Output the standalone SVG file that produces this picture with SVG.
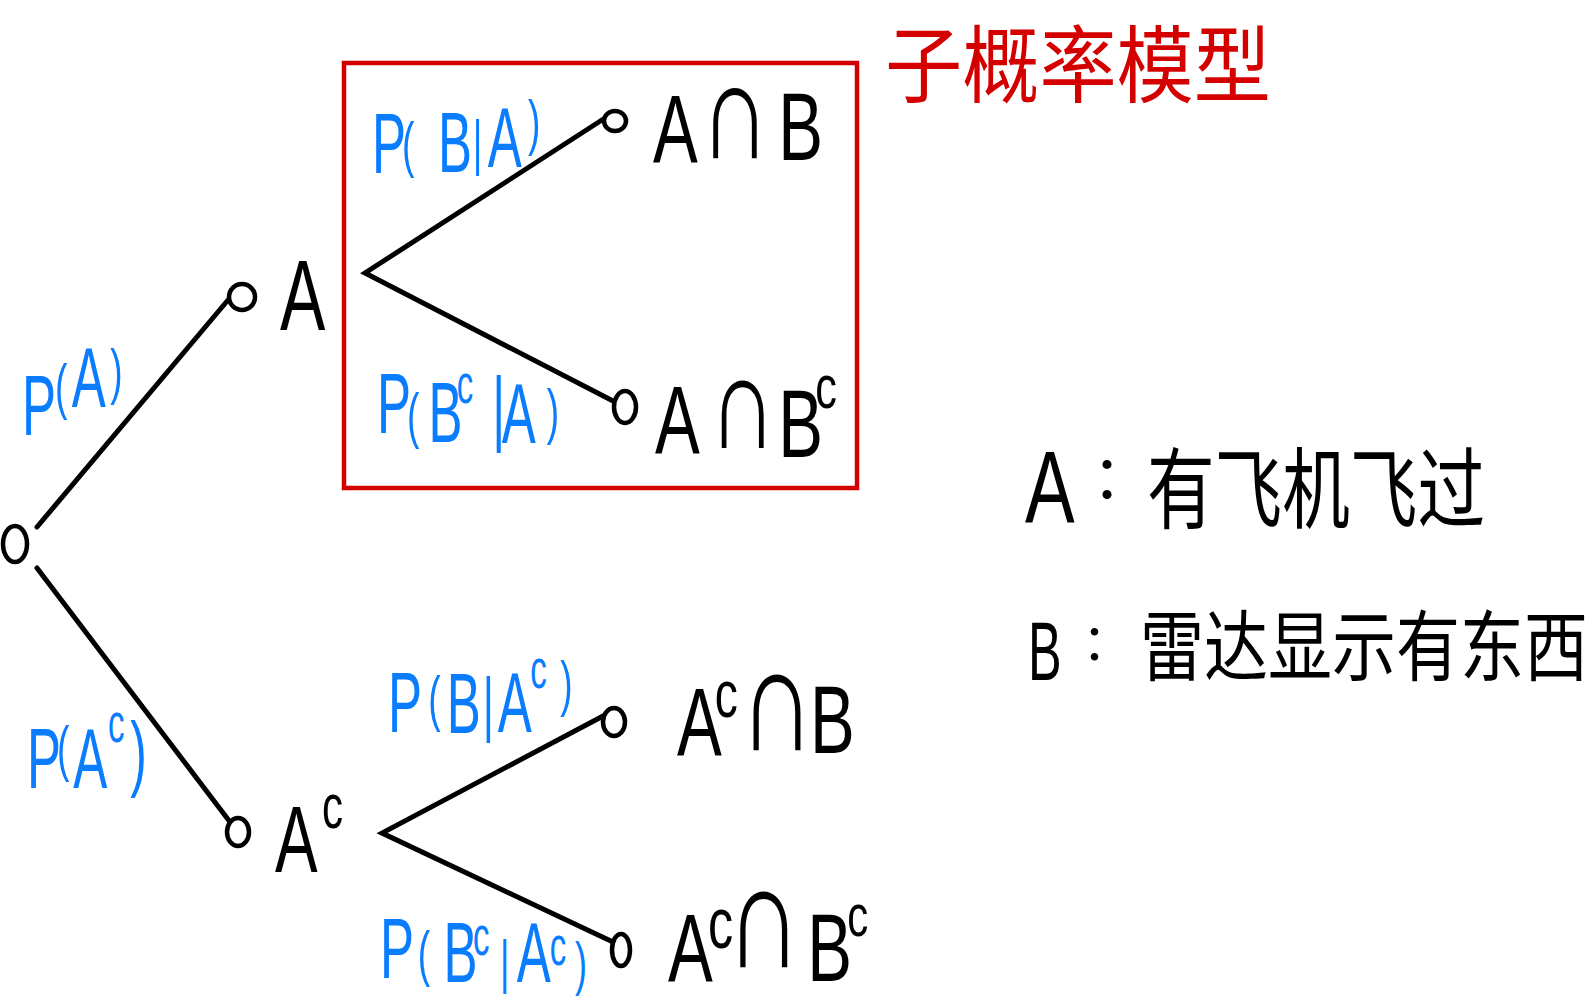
<svg xmlns="http://www.w3.org/2000/svg" width="1595" height="1000" viewBox="0 0 1595 1000">
<style>
.bg{fill:#ffffff}
.edge{stroke:#000;stroke-width:5;stroke-linecap:round;fill:none}
.dot{stroke:#000;stroke-width:4.5;fill:#fff}
.k{font-family:"Liberation Sans","DejaVu Sans",sans-serif;fill:#000}
.b{font-family:"Liberation Sans","DejaVu Sans",sans-serif;fill:#0A7DFF;font-size:85px}
.p{font-size:62px}
.s{font-size:55px}
.cjk{font-family:"Noto Sans CJK SC",sans-serif;fill:#000}
.red{fill:none;stroke:#D40000;stroke-width:4.5}
.title{font-family:"Noto Sans CJK SC",sans-serif;fill:#D40000}
</style>
<rect class="bg" x="0" y="0" width="1595" height="1000"/>

<g id="connectors">
<line class="edge" x1="37" y1="527" x2="228" y2="300"/>
<line class="edge" x1="37" y1="568" x2="230" y2="822"/>
<polyline class="edge" points="605,118 365,273 615,402"/>
<polyline class="edge" points="605,715 382,833 613,942"/>
</g>

<g id="edge-labels">
<text class="b" transform="translate(22,435) scale(0.6,1)"><tspan x="0" y="0">P</tspan><tspan class="p" x="55" y="-28">(</tspan><tspan x="83" y="-28">A</tspan><tspan class="p" x="147" y="-43">)</tspan></text>
<text class="b" transform="translate(27,788) scale(0.6,1)"><tspan x="0" y="0">P</tspan><tspan class="p" x="50" y="-19">(</tspan><tspan x="77" y="0">A</tspan><tspan class="s" x="135" y="-46">c</tspan><tspan x="172" y="-7" font-size="83">)</tspan></text>
<text class="b" transform="translate(372,173) scale(0.6,1)"><tspan x="0" y="0">P</tspan><tspan class="p" x="50" y="-8">(</tspan><tspan x="110" y="-1">B</tspan><tspan class="p" x="168" y="-10">|</tspan><tspan x="193" y="-6">A</tspan><tspan class="p" x="260" y="-30">)</tspan></text>
<text class="b" transform="translate(377,440) scale(0.6,1)"><tspan x="0" y="-7">P</tspan><tspan class="p" x="50" y="-4">(</tspan><tspan x="86" y="2">B</tspan><tspan class="s" x="133" y="-37">c</tspan><tspan x="192" y="-4" font-size="83">|</tspan><tspan x="208" y="3">A</tspan><tspan class="p" x="283" y="-8">)</tspan></text>
<text class="b" transform="translate(388,732) scale(0.6,1)"><tspan x="0" y="0">P</tspan><tspan class="p" x="67" y="-13">(</tspan><tspan x="98" y="1">B</tspan><tspan x="158" y="-4" font-size="72">|</tspan><tspan x="183" y="0">A</tspan><tspan class="s" x="237" y="-44">c</tspan><tspan class="p" x="287" y="-28">)</tspan></text>
<text class="b" transform="translate(380,978) scale(0.6,1)"><tspan x="0" y="0">P</tspan><tspan class="p" x="63" y="-4">(</tspan><tspan x="106" y="4">B</tspan><tspan class="s" x="155" y="-23">c</tspan><tspan x="200" y="4" font-size="60">|</tspan><tspan x="228" y="4">A</tspan><tspan class="s" x="283" y="-13">c</tspan><tspan x="325" y="6" font-size="60">)</tspan></text>
</g>

<g id="root">
<ellipse class="dot" cx="15" cy="544" rx="12" ry="18"/>
</g>

<g id="nodeA">
<ellipse class="dot" cx="242" cy="297" rx="13" ry="13"/>
<text class="k" font-size="100" transform="translate(280,330) scale(0.68,1)">A</text>
</g>

<g id="nodeAc">
<ellipse class="dot" cx="238" cy="832" rx="11" ry="14"/>
<text class="k" font-size="94" transform="translate(275,872) scale(0.68,1)"><tspan x="0" y="0">A</tspan><tspan x="69" y="-44" font-size="62">c</tspan></text>
</g>

<g id="nodeAB">
<ellipse class="dot" cx="615" cy="121" rx="11" ry="10"/>
<text class="k" font-size="96" transform="translate(653,162) scale(0.7,1)"><tspan x="0" y="0">A</tspan><tspan x="67" y="-4" font-size="139">∩</tspan><tspan x="179" y="-2">B</tspan></text>
</g>

<g id="nodeABc">
<ellipse class="dot" cx="625" cy="407" rx="11" ry="16"/>
<text class="k" font-size="96" transform="translate(655,453) scale(0.7,1)"><tspan x="0" y="0">A</tspan><tspan x="77" y="-5" font-size="134">∩</tspan><tspan x="176" y="4">B</tspan><tspan x="229" y="-45" font-size="62">c</tspan></text>
</g>

<g id="nodeAcB">
<ellipse class="dot" cx="614" cy="722" rx="11" ry="14"/>
<text class="k" font-size="96" transform="translate(677,755) scale(0.7,1)"><tspan x="0" y="0">A</tspan><tspan x="54" y="-38" font-size="66">c</tspan><tspan x="89" y="-5" font-size="150">∩</tspan><tspan x="190" y="-2">B</tspan></text>
</g>

<g id="nodeAcBc">
<ellipse class="dot" cx="621" cy="950" rx="9" ry="16"/>
<text class="k" font-size="96" transform="translate(668,981) scale(0.7,1)"><tspan x="0" y="0">A</tspan><tspan x="57" y="-33" font-size="72">c</tspan><tspan x="83" y="-14" font-size="150">∩</tspan><tspan x="199" y="0">B</tspan><tspan x="256" y="-45" font-size="60">c</tspan></text>
</g>

<g id="submodel">
<rect class="red" x="344" y="63" width="513" height="425"/>
<text class="title" x="885" y="96" font-size="84" textLength="386" lengthAdjust="spacingAndGlyphs">子概率模型</text>
</g>

<g id="legend">
<text class="k" font-size="102" transform="translate(1025,523) scale(0.73,1)">A</text>
<text class="cjk" x="1092" y="499" font-size="60">：</text>
<text class="cjk" x="1147" y="521" font-size="88" textLength="338" lengthAdjust="spacingAndGlyphs">有飞机飞过</text>
<text class="k" font-size="84" transform="translate(1028,680) scale(0.6,1)">B</text>
<text class="cjk" x="1082" y="660" font-size="50">：</text>
<text class="cjk" font-size="64" transform="translate(1140,675) scale(1,1.2)">雷达显示有东西</text>
</g>
</svg>
